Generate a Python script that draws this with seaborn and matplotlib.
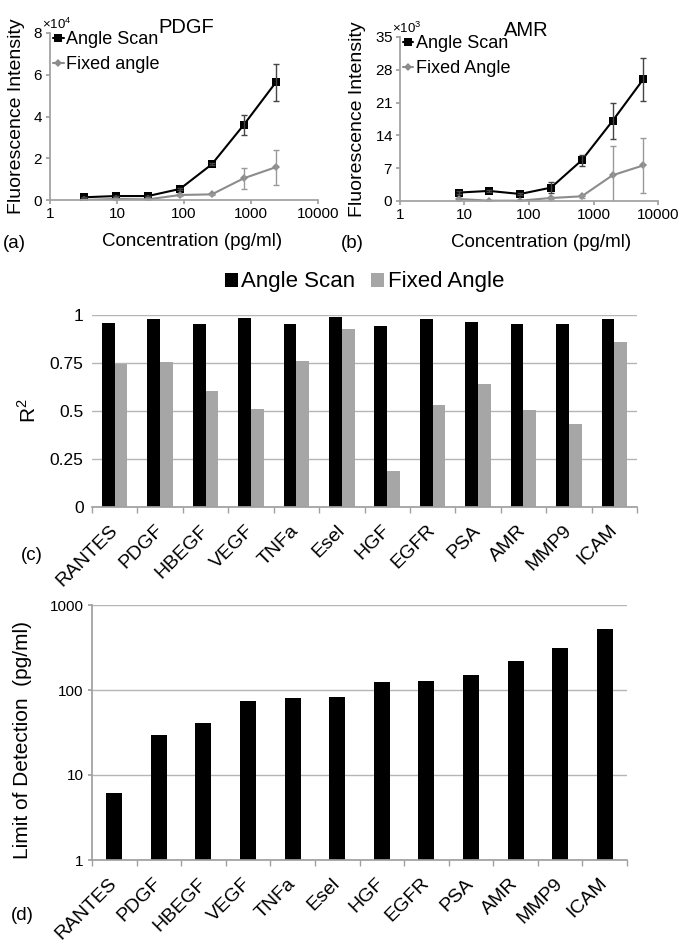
import numpy as np
import pandas as pd
import matplotlib
matplotlib.use("Agg")
import matplotlib.pyplot as plt
import matplotlib.ticker as mticker
import seaborn as sns

# ---- data ----
pdgf_conc = [3.2, 9.6, 29, 87, 260, 780, 2340]
pdgf_scan = [1300, 1900, 1900, 5300, 17100, 36000, 56300]
pdgf_scan_err = [150, 150, 150, 300, 500, 4800, 9000]
pdgf_fixed = [0, 500, 300, 2400, 2700, 10400, 15700]
pdgf_fixed_err = [100, 100, 100, 300, 300, 5000, 8400]

amr_conc = [8.1, 24, 73, 219, 658, 1975, 5926]
amr_scan = [1800, 2150, 1500, 2850, 8700, 17100, 26000]
amr_scan_err = [300, 300, 300, 1100, 1200, 3900, 4600]
amr_fixed = [430, 70, 70, 640, 1000, 5500, 7600]
amr_fixed_err = [200, 100, 100, 200, 300, 6200, 5800]

targets = ["RANTES", "PDGF", "HBEGF", "VEGF", "TNFa", "Esel",
           "HGF", "EGFR", "PSA", "AMR", "MMP9", "ICAM"]
r2_scan = [0.96, 0.977, 0.953, 0.983, 0.953, 0.988,
           0.944, 0.977, 0.962, 0.955, 0.955, 0.977]
r2_fixed = [0.743, 0.753, 0.603, 0.511, 0.762, 0.925,
            0.19, 0.53, 0.64, 0.504, 0.43, 0.859]
lod = [6.2, 29.7, 41.4, 73.6, 80.5, 82, 123, 129, 151, 220, 308, 520]

sns.set_theme(style="white")
plt.rcParams["font.family"] = ["Liberation Sans", "DejaVu Sans"]
plt.rcParams["mathtext.fontset"] = "custom"
plt.rcParams["mathtext.rm"] = "Liberation Sans"
plt.rcParams["text.color"] = "black"
plt.rcParams["axes.labelcolor"] = "black"
plt.rcParams["xtick.color"] = "black"
plt.rcParams["ytick.color"] = "black"

GRAY_LINE = "#8c8c8c"
GRAY_BAR = "#a6a6a6"
AXIS = "#a0a0a0"
GRID = "#b5b5b5"

W, H = 687, 948
fig = plt.figure(figsize=(W / 100, H / 100), dpi=100)


def px_axes(l, t, r, b):
    return fig.add_axes([l / W, 1 - b / H, (r - l) / W, (b - t) / H])


def style_axes(ax, left=True):
    for s in ["top", "right"]:
        ax.spines[s].set_visible(False)
    ax.spines["bottom"].set_color(AXIS)
    ax.spines["left"].set_color(AXIS)
    ax.spines["left"].set_visible(left)


def line_panel(ax, conc, scan, scan_err, fixed, fixed_err, title, fixed_label,
               yticks, power, title_xy, ylab_x):
    sns.lineplot(x=conc, y=scan, ax=ax, color="black", marker="s",
                 markersize=5.5, markeredgewidth=0, lw=1.5, label="Angle Scan")
    sns.lineplot(x=conc, y=fixed, ax=ax, color=GRAY_LINE, marker="D",
                 markersize=4.5, markeredgewidth=0, lw=1.5, label=fixed_label)
    ax.errorbar(conc, scan, yerr=scan_err, fmt="none", ecolor="#444444",
                elinewidth=1, capsize=2.5, capthick=1)
    ax.errorbar(conc, fixed, yerr=fixed_err, fmt="none", ecolor="#999999",
                elinewidth=1, capsize=2.5, capthick=1)
    ax.set_xscale("log")
    ax.set_xlim(1, 10000)
    ax.set_ylim(yticks[0], yticks[-1])
    ax.set_yticks(yticks)
    ax.xaxis.set_major_locator(mticker.FixedLocator([1, 10, 100, 1000, 10000]))
    ax.xaxis.set_minor_locator(mticker.NullLocator())
    ax.xaxis.set_major_formatter(mticker.FuncFormatter(lambda v, p: f"{v:g}"))
    ax.ticklabel_format(axis="y", style="sci", scilimits=(power, power),
                        useMathText=True)
    ax.yaxis.offsetText.set_fontsize(9.5)
    ax.yaxis.offsetText.set_x(-0.03)
    style_axes(ax)
    ax.tick_params(axis="both", labelsize=11, length=3, color=AXIS,
                   bottom=True, left=True, pad=2)
    ax.set_ylabel("Fluorescence Intensity", fontsize=14)
    ax.yaxis.set_label_coords(ylab_x, 0.5)
    ax.set_xlabel("Concentration (pg/ml)", fontsize=13.5)
    ax.text(title_xy[0], title_xy[1], title, transform=ax.transAxes,
            ha="center", va="center", fontsize=14.5)
    ax.legend(loc="upper left", bbox_to_anchor=(0.01, 1.01), frameon=False,
              fontsize=13, handlelength=0.6, handletextpad=0.15,
              borderaxespad=0, borderpad=0, labelspacing=0.45)


# (a) PDGF
ax_a = px_axes(50, 33, 318, 200)
line_panel(ax_a, pdgf_conc, pdgf_scan, pdgf_scan_err, pdgf_fixed, pdgf_fixed_err,
           "PDGF", "Fixed angle", [0, 20000, 40000, 60000, 80000], 4,
           (0.507, 1.03), -0.095)
ax_a.xaxis.set_label_coords(0.53, -0.2)

# (b) AMR
ax_b = px_axes(400, 37, 658, 201)
line_panel(ax_b, amr_conc, amr_scan, amr_scan_err, amr_fixed, amr_fixed_err,
           "AMR", "Fixed Angle", [0, 7000, 14000, 21000, 28000, 35000], 3,
           (0.49, 1.04), -0.13)
ax_b.xaxis.set_label_coords(0.547, -0.2)

# (c) R^2 bars
ax_c = px_axes(92, 315, 637, 507)
df_r2 = pd.DataFrame({
    "target": targets * 2,
    "method": ["Angle Scan"] * len(targets) + ["Fixed Angle"] * len(targets),
    "r2": r2_scan + r2_fixed,
})
sns.barplot(data=df_r2, x="target", y="r2", hue="method",
            palette=["black", GRAY_BAR], width=0.56, gap=0, saturation=1,
            linewidth=0, ax=ax_c)
ax_c.set_ylim(0, 1)
ax_c.set_yticks([0, 0.25, 0.5, 0.75, 1])
ax_c.yaxis.set_major_formatter(mticker.FuncFormatter(lambda v, p: f"{v:g}"))
ax_c.yaxis.grid(True, color=GRID, lw=1)
ax_c.set_axisbelow(True)
style_axes(ax_c, left=False)
ax_c.set_xlim(-0.5, len(targets) - 0.5)
ax_c.set_xticks(np.arange(len(targets) + 1) - 0.5, minor=True)
ax_c.tick_params(axis="x", which="minor", length=4, color=AXIS, bottom=True)
ax_c.tick_params(axis="x", which="major", length=0, labelsize=14, pad=15)
ax_c.tick_params(axis="y", length=0, labelsize=12.5, pad=6)
for lab in ax_c.get_xticklabels():
    lab.set_rotation(45)
    lab.set_ha("right")
    lab.set_va("center")
    lab.set_rotation_mode("anchor")
ax_c.set_xlabel("")
ax_c.set_ylabel("R$^2$", fontsize=15)
ax_c.yaxis.set_label_coords(-0.095, 0.5)
sns.move_legend(ax_c, "center", bbox_to_anchor=(0.5, 1.172), ncol=2,
                frameon=False, title=None, fontsize=16, handlelength=0.6,
                handleheight=0.6, handletextpad=0.15, columnspacing=0.7)

# (d) limit of detection
ax_d = px_axes(92, 605, 627, 860)
sns.barplot(x=targets, y=lod, color="black", width=0.36, saturation=1,
            linewidth=0, ax=ax_d)
ax_d.set_yscale("log")
ax_d.set_ylim(1, 1000)
ax_d.yaxis.set_major_locator(mticker.FixedLocator([1, 10, 100, 1000]))
ax_d.yaxis.set_minor_locator(mticker.NullLocator())
ax_d.yaxis.set_major_formatter(mticker.FuncFormatter(lambda v, p: f"{v:g}"))
ax_d.yaxis.grid(True, color=GRID, lw=1)
ax_d.set_axisbelow(True)
style_axes(ax_d)
ax_d.set_xlim(-0.5, len(targets) - 0.5)
ax_d.set_xticks(np.arange(len(targets) + 1) - 0.5, minor=True)
ax_d.tick_params(axis="x", which="minor", length=4, color=AXIS, bottom=True)
ax_d.tick_params(axis="x", which="major", length=0, labelsize=14, pad=15)
ax_d.tick_params(axis="y", length=3, color=AXIS, left=True, labelsize=11, pad=3)
for lab in ax_d.get_xticklabels():
    lab.set_rotation(45)
    lab.set_ha("right")
    lab.set_va("center")
    lab.set_rotation_mode("anchor")
ax_d.set_ylabel("Limit of Detection  (pg/ml)", fontsize=15)
ax_d.yaxis.set_label_coords(-0.112, 0.47)

# panel letters
for s, x, y in [("(a)", 14, 243), ("(b)", 352, 243), ("(c)", 32, 555), ("(d)", 22, 915)]:
    fig.text(x / W, 1 - y / H, s, ha="center", va="center", fontsize=13.5)

fig.savefig("out.png", dpi=100)
